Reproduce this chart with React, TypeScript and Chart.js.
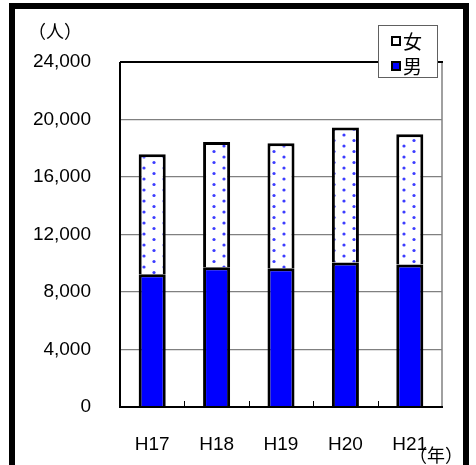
import React, { useEffect, useRef } from "react";
import { Chart, registerables } from "chart.js";

Chart.register(...registerables);

const categories = ["H17", "H18", "H19", "H20", "H21"];
const maleValues = [9230, 9730, 9650, 10060, 9920];
const femaleValues = [8360, 8710, 8700, 9380, 9060];
const yTicks = [0, 4000, 8000, 12000, 16000, 20000, 24000];
const maleLabel = "男";
const femaleLabel = "女";
const yUnit = "（人）";
const xUnit = "（年）";

const NUM_FONT = "'Liberation Sans', Arial, sans-serif";
const CJK_FONT = "'Noto Sans CJK JP', 'Noto Sans CJK SC', sans-serif";

function makeDotPattern(): CanvasPattern | string {
  const c = document.createElement("canvas");
  c.width = 20;
  c.height = 11;
  const g = c.getContext("2d");
  if (!g) return "#ffffff";
  g.fillStyle = "#ffffff";
  g.fillRect(0, 0, 20, 11);
  const dot = (x: number, y: number) => {
    g.fillStyle = "#3c3cff";
    g.beginPath();
    g.arc(x, y, 1.6, 0, Math.PI * 2);
    g.fill();
  };
  dot(4, 3);
  dot(14, 8.5);
  const p = g.createPattern(c, "repeat");
  return p || "#ffffff";
}

const decorPlugin = {
  id: "decor",
  afterDatasetsDraw(chart: any) {
    const ctx = chart.ctx;
    const area = chart.chartArea;
    const xs = chart.scales.x;
    ctx.save();
    ctx.strokeStyle = "#000";
    ctx.lineWidth = 1;
    for (let i = 0; i < categories.length - 1; i++) {
      const bx = Math.round((xs.getPixelForValue(i) + xs.getPixelForValue(i + 1)) / 2) + 0.5;
      ctx.beginPath();
      ctx.moveTo(bx, area.bottom);
      ctx.lineTo(bx, area.bottom - 6);
      ctx.stroke();
    }
    ctx.strokeStyle = "#808080";
    ctx.lineWidth = 1.5;
    ctx.beginPath();
    ctx.moveTo(area.right, area.top);
    ctx.lineTo(area.right, area.bottom);
    ctx.stroke();
    ctx.strokeStyle = "#000";
    ctx.lineWidth = 2;
    ctx.beginPath();
    ctx.moveTo(area.left, area.top);
    ctx.lineTo(area.right + 1, area.top);
    ctx.stroke();
    ctx.beginPath();
    ctx.moveTo(area.left, area.top);
    ctx.lineTo(area.left, area.bottom);
    ctx.lineTo(area.right + 1, area.bottom);
    ctx.stroke();
    ctx.restore();
  },
  afterDraw(chart: any) {
    const ctx = chart.ctx;
    ctx.save();
    ctx.fillStyle = "#000";
    ctx.font = `18px ${CJK_FONT}`;
    ctx.textAlign = "center";
    ctx.textBaseline = "middle";
    ctx.fillText(yUnit, 55, 31);
    ctx.fillText(xUnit, 436, 455);

    const lx = 378, ly = 25, lw = 59, lh = 52;
    ctx.fillStyle = "#fff";
    ctx.fillRect(lx, ly, lw, lh);
    ctx.strokeStyle = "#606060";
    ctx.lineWidth = 1;
    ctx.strokeRect(lx + 0.5, ly + 0.5, lw, lh);
    const ds = chart.data.datasets;
    const items = [ds[1], ds[0]];
    const rowsY = [41, 66];
    items.forEach((d: any, i: number) => {
      const cy = rowsY[i];
      ctx.fillStyle = i === 0 ? "#ffffff" : "#0000ff";
      ctx.fillRect(391, cy - 5, 10, 10);
      ctx.strokeStyle = "#000";
      ctx.lineWidth = 2;
      ctx.strokeRect(392, cy - 4, 8, 8);
      ctx.fillStyle = "#000";
      ctx.font = `19px ${CJK_FONT}`;
      ctx.textAlign = "left";
      ctx.textBaseline = "middle";
      ctx.fillText(d.label, 403, cy + 1);
    });

    ctx.fillStyle = "#000";
    ctx.fillRect(9, 3, 6, 462);
    ctx.fillRect(9, 3, 460, 6);
    ctx.fillRect(463, 3, 6, 462);
    ctx.restore();
  },
};

export default function App() {
  const ref = useRef<HTMLCanvasElement | null>(null);
  useEffect(() => {
    if (!ref.current) return;
    const pattern = makeDotPattern();
    const chart = new Chart(ref.current, {
      type: "bar",
      data: {
        labels: categories,
        datasets: [
          {
            label: maleLabel,
            data: maleValues,
            backgroundColor: "#0000ff",
            borderColor: "#000",
            borderWidth: 3,
            borderSkipped: "start",
            categoryPercentage: 1,
            barPercentage: 0.42,
          },
          {
            label: femaleLabel,
            data: femaleValues,
            backgroundColor: pattern as any,
            borderColor: "#000",
            borderWidth: 3,
            borderSkipped: "start",
            categoryPercentage: 1,
            barPercentage: 0.42,
          },
        ],
      },
      options: {
        responsive: false,
        animation: false,
        layout: { padding: { left: 0, top: 62, right: 34, bottom: 0 } },
        plugins: {
          legend: { display: false },
          tooltip: { enabled: false },
          title: { display: false },
        },
        scales: {
          x: {
            stacked: true,
            grid: { display: false, drawTicks: false },
            border: { display: false },
            ticks: {
              color: "#000",
              font: { family: NUM_FONT, size: 19 },
              padding: 26,
              maxRotation: 0,
            },
            afterFit: (s: any) => {
              s.height = 58;
            },
          },
          y: {
            stacked: true,
            min: 0,
            max: 24000,
            afterBuildTicks: (s: any) => {
              s.ticks = yTicks.map((v) => ({ value: v }));
            },
            grid: {
              drawTicks: false,
              color: (c: any) =>
                c.tick && (c.tick.value === 0 || c.tick.value === 24000) ? "rgba(0,0,0,0)" : "#808080",
              lineWidth: 1.2,
            },
            border: { display: false },
            ticks: {
              color: "#000",
              font: { family: NUM_FONT, size: 19 },
              padding: 29,
              callback: (v: any) => Number(v).toLocaleString("en-US"),
            },
            afterFit: (s: any) => {
              s.width = 120;
            },
          },
        },
      },
      plugins: [decorPlugin],
    });
    return () => chart.destroy();
  }, []);
  return (
    <div style={{ position: "fixed", left: 0, top: 0, width: 476, height: 465, background: "#fff" }}>
      <canvas ref={ref} width={476} height={465} style={{ display: "block" }} />
    </div>
  );
}
